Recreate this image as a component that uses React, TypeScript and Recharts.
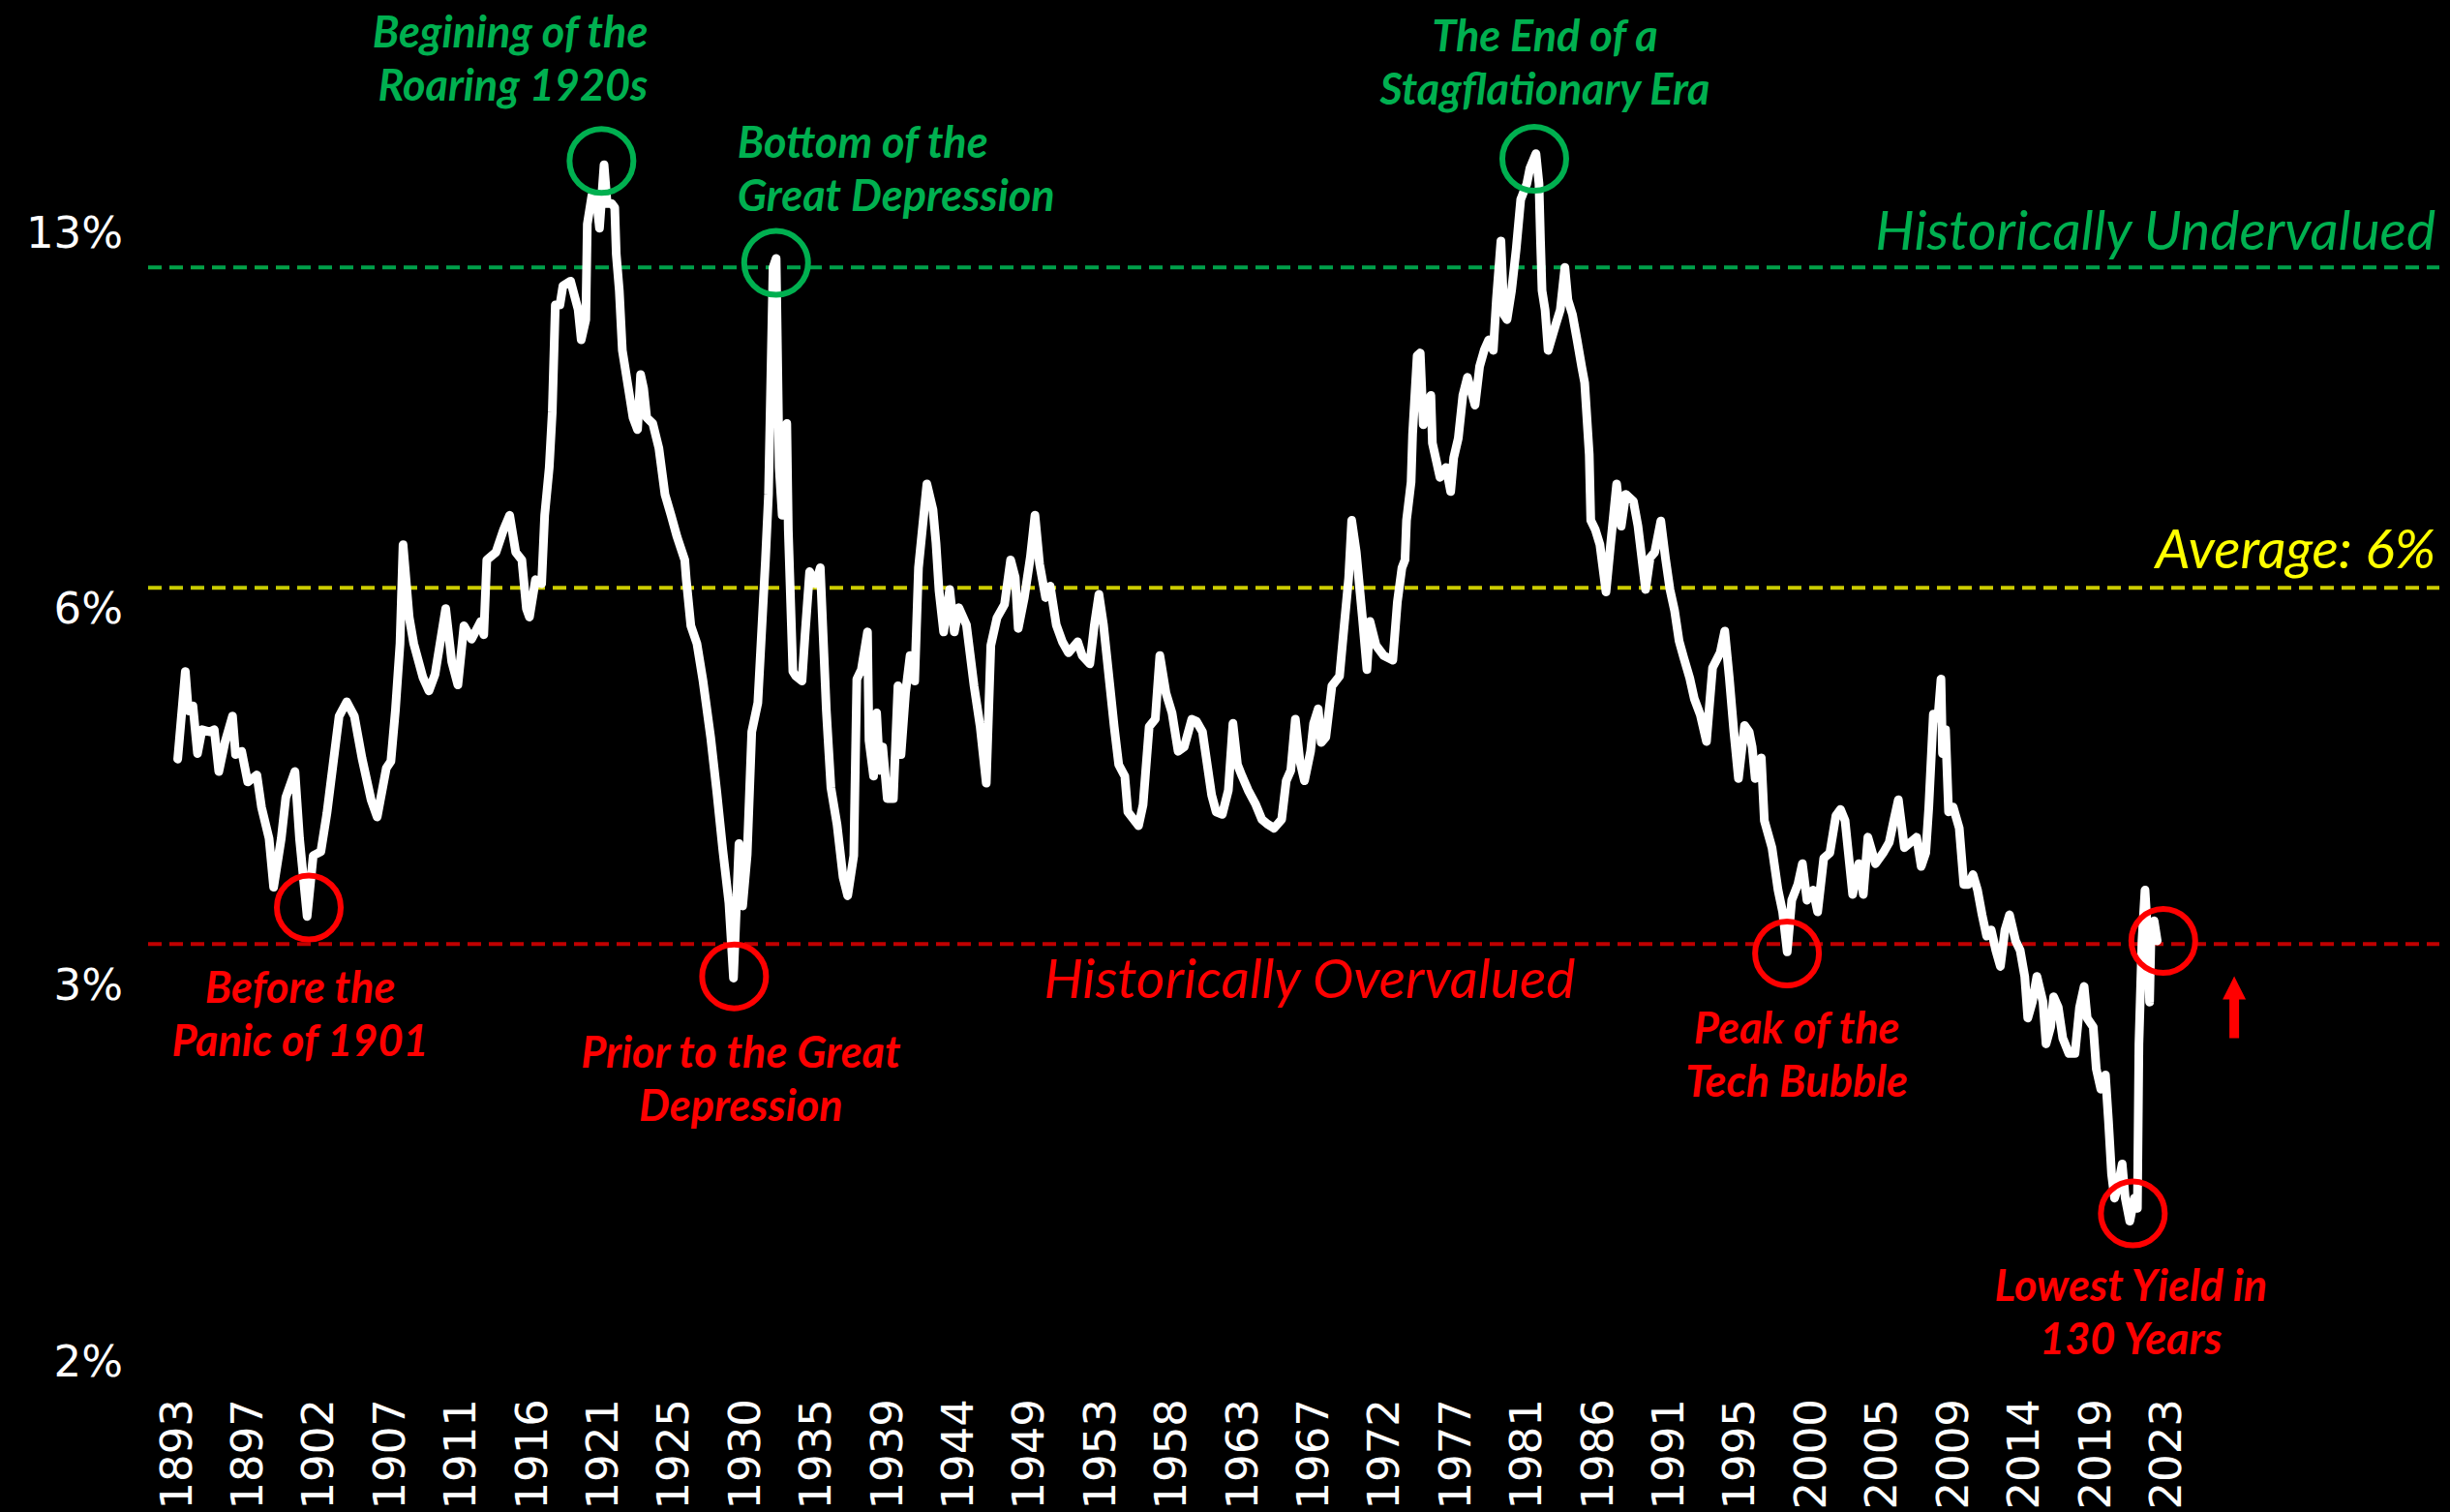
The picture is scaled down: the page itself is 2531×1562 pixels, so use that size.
import React from 'react';
import { LineChart, Line, XAxis, YAxis, ReferenceLine, ReferenceDot } from 'recharts';

const W = 2531;
const H = 1562;

// ---- data (decimal year, yield %) ----
const years: number[] = [
  1893.1, 1893.6, 1893.8, 1894.1, 1894.4, 1894.7, 1895.2, 1895.5, 1895.8, 1896.2, 1896.7, 1896.9, 1897.3, 1897.7, 1898.3, 1898.6, 1899.1, 1899.4, 1899.9,
  1900.2, 1900.8, 1901.1, 1901.6, 1902.0, 1902.5, 1902.9, 1903.7, 1904.2, 1904.7, 1905.2, 1905.8, 1906.2, 1906.8, 1907.1, 1907.4, 1907.7, 1907.9, 1908.3, 1908.6,
  1909.2, 1909.6, 1910.0, 1910.7, 1911.1, 1911.5, 1911.9, 1912.4, 1913.0, 1913.2, 1913.4, 1914.0, 1914.5, 1914.9, 1915.3, 1915.7, 1916.0, 1916.2, 1916.6, 1917.0,
  1917.2, 1917.5, 1917.7, 1917.9, 1918.2, 1918.4, 1918.9, 1919.4, 1919.6, 1919.9, 1920.0, 1920.3, 1920.6, 1920.8, 1921.1, 1921.3, 1921.6, 1921.8, 1921.9, 1922.1,
  1922.3, 1922.7, 1923.0, 1923.3, 1923.5, 1923.7, 1923.9, 1924.3, 1924.7, 1925.1, 1925.5, 1925.9, 1926.4, 1926.5, 1926.8, 1927.2, 1927.6, 1928.1, 1928.5, 1928.9,
  1929.3, 1929.6, 1929.96, 1930.2, 1930.5, 1930.8, 1931.2, 1931.7, 1931.9, 1932.2, 1932.4, 1932.6, 1932.8, 1933.1, 1933.2, 1933.5, 1933.7, 1934.1, 1934.3, 1934.6,
  1935.0, 1935.3, 1935.7, 1936.0, 1936.4, 1936.8, 1937.1, 1937.5, 1937.7, 1938.0, 1938.4, 1938.5, 1938.8, 1939.0, 1939.2, 1939.4, 1939.7, 1940.1, 1940.4, 1940.6,
  1940.9, 1941.2, 1941.5, 1941.75, 1942.3, 1942.7, 1942.9, 1943.1, 1943.4, 1943.8, 1944.1, 1944.4, 1944.9, 1945.4, 1945.8, 1946.2, 1946.5, 1946.9, 1947.4, 1947.8,
  1948.1, 1948.3, 1948.7, 1949.1, 1949.4, 1949.7, 1950.1, 1950.4, 1950.8, 1951.2, 1951.6, 1952.2, 1952.5, 1953.0, 1953.3, 1953.6, 1953.9, 1954.3, 1954.6, 1954.9,
  1955.3, 1955.5, 1956.2, 1956.5, 1956.9, 1957.3, 1957.6, 1958.0, 1958.4, 1958.8, 1959.2, 1959.7, 1960.0, 1960.4, 1961.0, 1961.3, 1961.7, 1962.1, 1962.4, 1962.7,
  1963.0, 1963.4, 1963.9, 1964.3, 1964.7, 1965.1, 1965.6, 1965.9, 1966.2, 1966.5, 1966.8, 1967.1, 1967.5, 1967.7, 1968.0, 1968.2, 1968.5, 1968.9, 1969.4, 1969.7,
  1970.0, 1970.2, 1970.5, 1970.9, 1971.2, 1971.4, 1971.8, 1972.3, 1972.9, 1973.2, 1973.5, 1973.7, 1973.8, 1974.1, 1974.2, 1974.5, 1974.7, 1974.9, 1975.1, 1975.4,
  1975.5, 1976.0, 1976.4, 1976.7, 1976.9, 1977.2, 1977.5, 1977.8, 1978.3, 1978.6, 1978.9, 1979.2, 1979.5, 1979.7, 1980.0, 1980.2, 1980.4, 1980.7, 1981.0, 1981.3,
  1981.7, 1981.9, 1982.3, 1982.5, 1982.6, 1982.7, 1982.9, 1983.1, 1983.6, 1983.9, 1984.2, 1984.4, 1984.7, 1985.0, 1985.3, 1985.5, 1985.8, 1985.9, 1986.2, 1986.5,
  1986.9, 1987.2, 1987.6, 1987.9, 1988.2, 1988.7, 1989.0, 1989.5, 1989.8, 1990.1, 1990.5, 1990.8, 1991.1, 1991.4, 1991.7, 1992.0, 1992.4, 1992.7, 1993.1, 1993.5,
  1993.9, 1994.4, 1994.7, 1995.0, 1995.3, 1995.6, 1996.0, 1996.3, 1996.5, 1996.7, 1997.1, 1997.3, 1997.8, 1998.2, 1998.5, 1998.8, 1999.1, 1999.5, 1999.8, 2000.1,
  2000.5, 2000.8, 2001.2, 2001.6, 2002.0, 2002.3, 2002.6, 2003.1, 2003.5, 2003.8, 2004.1, 2004.6, 2005.1, 2005.5, 2005.8, 2006.1, 2006.5, 2006.9, 2007.3, 2007.6,
  2007.9, 2008.1, 2008.4, 2008.7, 2008.9, 2009.0, 2009.2, 2009.4, 2009.7, 2010.1, 2010.4, 2010.7, 2011.0, 2011.3, 2011.6, 2011.9, 2012.2, 2012.5, 2012.8, 2013.1,
  2013.4, 2013.8, 2014.1, 2014.4, 2014.6, 2014.9, 2015.2, 2015.6, 2015.8, 2016.1, 2016.3, 2016.6, 2016.9, 2017.3, 2017.7, 2018.0, 2018.3, 2018.5, 2018.9, 2019.1,
  2019.4, 2019.7, 2019.9, 2020.1, 2020.3, 2020.5, 2020.8, 2021.0, 2021.3, 2021.6, 2021.8, 2021.9, 2022.1, 2022.3, 2022.5, 2022.6, 2022.7, 2022.9, 2023.1,
];

const yields: number[] = [
  4.85, 5.7, 5.3, 5.35, 4.9, 5.12, 5.1, 5.12, 4.74, 5.0, 5.25, 4.89, 4.92, 4.65, 4.71, 4.44, 4.19, 3.83, 4.19,
  4.52, 4.74, 4.19, 3.63, 4.06, 4.09, 4.39, 5.25, 5.39, 5.25, 4.86, 4.5, 4.36, 4.77, 4.83, 5.31, 6.0, 7.2, 6.3, 6.0,
  5.64, 5.5, 5.67, 6.4, 5.8, 5.56, 6.2, 6.05, 6.25, 6.1, 7.0, 7.1, 7.4, 7.6, 7.1, 7.0, 6.4, 6.3, 6.75, 6.7,
  7.6, 8.3, 9.2, 11.2, 11.2, 11.6, 11.7, 11.1, 10.5, 10.9, 13.0, 13.7, 13.6, 12.9, 14.5, 13.5, 13.5, 13.4, 12.3, 11.5,
  10.3, 9.6, 9.1, 8.9, 9.85, 9.6, 9.1, 9.0, 8.6, 7.9, 7.6, 7.3, 7.0, 6.75, 6.2, 6.0, 5.6, 5.05, 4.57, 4.1,
  3.72, 3.24, 4.15, 3.7, 4.07, 5.1, 5.38, 7.0, 7.9, 12.0, 12.2, 8.3, 7.6, 9.0, 7.4, 5.7, 5.65, 5.6, 6.1, 6.85,
  6.7, 6.9, 5.3, 4.6, 4.3, 3.9, 3.77, 4.06, 5.62, 5.72, 6.13, 5.02, 4.7, 5.28, 4.75, 4.96, 4.51, 4.51, 5.55, 4.89,
  5.48, 5.87, 5.6, 6.9, 8.05, 7.68, 7.22, 6.61, 6.13, 6.63, 6.13, 6.41, 6.21, 5.55, 5.15, 4.64, 5.98, 6.29, 6.45, 7.0,
  6.78, 6.17, 6.53, 7.04, 7.6, 6.95, 6.53, 6.67, 6.21, 6.02, 5.9, 6.02, 5.87, 5.78, 6.21, 6.57, 6.21, 5.58, 5.15, 4.8,
  4.7, 4.4, 4.29, 4.46, 5.15, 5.22, 5.87, 5.48, 5.28, 4.92, 4.96, 5.22, 5.2, 5.1, 4.54, 4.4, 4.38, 4.58, 5.18, 4.8,
  4.7, 4.58, 4.46, 4.34, 4.3, 4.27, 4.34, 4.66, 4.75, 5.22, 4.83, 4.66, 4.92, 5.18, 5.32, 5.0, 5.05, 5.55, 5.65, 6.19,
  6.77, 7.53, 7.1, 6.3, 5.72, 6.25, 5.98, 5.87, 5.82, 6.48, 6.9, 7.0, 7.53, 8.08, 8.83, 10.2, 10.25, 8.98, 9.31, 9.48,
  8.68, 8.15, 8.3, 7.94, 8.45, 8.76, 9.48, 9.8, 9.31, 10.0, 10.3, 10.5, 10.3, 11.3, 12.6, 11.0, 10.9, 11.5, 12.4, 13.6,
  14.0, 14.4, 14.8, 14.0, 12.6, 11.5, 11.1, 10.3, 10.8, 11.1, 12.0, 11.3, 11.0, 10.5, 10.0, 9.7, 8.5, 7.53, 7.4, 7.2,
  6.6, 7.2, 8.05, 7.45, 7.9, 7.8, 7.45, 6.63, 7.03, 7.1, 7.52, 7.03, 6.63, 6.38, 6.03, 5.85, 5.63, 5.42, 5.26, 5.01,
  5.74, 5.9, 6.14, 5.63, 5.1, 4.68, 5.16, 5.1, 4.96, 4.68, 4.86, 4.33, 4.12, 3.81, 3.66, 3.4, 3.74, 3.85, 4.0, 3.74,
  3.81, 3.66, 4.04, 4.08, 4.37, 4.42, 4.33, 3.78, 4.0, 3.78, 4.2, 4.0, 4.08, 4.16, 4.33, 4.5, 4.12, 4.16, 4.2, 3.98,
  4.08, 4.44, 5.27, 5.23, 5.62, 4.9, 5.12, 4.4, 4.44, 4.27, 3.85, 3.85, 3.92, 3.81, 3.64, 3.5, 3.54, 3.41, 3.31, 3.54,
  3.64, 3.47, 3.41, 3.25, 3.01, 3.1, 3.25, 3.1, 2.87, 2.96, 3.13, 3.07, 2.9, 2.82, 2.82, 3.07, 3.19, 3.01, 2.96, 2.74,
  2.64, 2.71, 2.49, 2.26, 2.16, 2.2, 2.3, 2.16, 2.07, 2.16, 2.12, 2.87, 3.47, 3.81, 3.47, 3.1, 3.54, 3.6, 3.47,
];

const xTickLabels: string[] = [
  '1893', '1897', '1902', '1907', '1911', '1916', '1921', '1925', '1930', '1935', '1939', '1944', '1949', '1953', '1958',
  '1963', '1967', '1972', '1977', '1981', '1986', '1991', '1995', '2000', '2005', '2009', '2014', '2019', '2023',
];
// every 56th month starting January 1893
const xTickValues: number[] = xTickLabels.map((_, k) => 1893 + (56 * k) / 12);

const yTickValues: number[] = [1.6, 3.2, 6.4, 12.8];
const yTickLabels: string[] = ['2%', '3%', '6%', '13%'];

const undervaluedLevel = 12.0;
const averageLevel = 6.65;
const overvaluedLevel = 3.45;

const rows = years.map((year, i) => ({ year, y: yields[i] }));

// ---- styling ----
const GREEN = '#00B050';
const GREEN_LINE = '#00A04A';
const YELLOW_LINE = '#CCCC00';
const YELLOW_TEXT = '#FFFF00';
const RED = '#FF0000';
const RED_LINE = '#C00000';
const NOTE_FONT = 'Lato, "Open Sans", sans-serif';

const X_MIN = 1891.156;
const X_MAX = 2041.63;

type Note = {
  x: number;
  y: number;
  color: string;
  lines: string[];
  dx: number;
  dy: number;
  anchor: 'start' | 'middle' | 'end';
  circle: boolean;
};

const notes: Note[] = [
  { x: 1920.93, y: 14.6, color: GREEN, lines: ['Begining of the', 'Roaring 1920s'], dx: 48, dy: -134, anchor: 'end', circle: true },
  { x: 1932.4, y: 12.1, color: GREEN, lines: ['Bottom of the', 'Great Depression'], dx: -40, dy: -126, anchor: 'start', circle: true },
  { x: 1982.19, y: 14.66, color: GREEN, lines: ['The End of a', 'Stagflationary Era'], dx: 11, dy: -128, anchor: 'middle', circle: true },
  { x: 1901.71, y: 3.69, color: RED, lines: ['Before the', 'Panic of 1901'], dx: -9, dy: 82, anchor: 'middle', circle: true },
  { x: 1929.64, y: 3.25, color: RED, lines: ['Prior to the Great', 'Depression'], dx: 7, dy: 77, anchor: 'middle', circle: true },
  { x: 1998.79, y: 3.39, color: RED, lines: ['Peak of the', 'Tech Bubble'], dx: 10, dy: 76, anchor: 'middle', circle: true },
  { x: 2021.5, y: 2.1, color: RED, lines: ['Lowest Yield in', '130 Years'], dx: -2, dy: 73, anchor: 'middle', circle: true },
  { x: 2023.5, y: 3.47, color: RED, lines: [], dx: 0, dy: 0, anchor: 'middle', circle: true },
];

type LineNote = { x: number; y: number; text: string; color: string; dy: number; anchor: 'start' | 'middle' | 'end' };
const lineNotes: LineNote[] = [
  { x: 2041.38, y: undervaluedLevel, text: 'Historically Undervalued', color: GREEN, dy: -40, anchor: 'end' },
  { x: 2041.38, y: averageLevel, text: 'Average: 6%', color: YELLOW_TEXT, dy: -42, anchor: 'end' },
  { x: 1967.44, y: overvaluedLevel, text: 'Historically Overvalued', color: RED, dy: 34, anchor: 'middle' },
];

const arrowPoint = { x: 2028.16, y: 3.07 };

const XTick = (props: any) => {
  const { x, y, payload } = props;
  const idx = xTickValues.findIndex((v) => Math.abs(v - payload.value) < 1e-6);
  const label = idx >= 0 ? xTickLabels[idx] : '';
  return (
    <text
      x={0}
      y={0}
      transform={`translate(${x},${y + 39}) rotate(-90)`}
      textAnchor="end"
      dominantBaseline="central"
      fill="#FFFFFF"
      fontSize={45}
      fontFamily='"DejaVu Sans", sans-serif'
    >
      {label}
    </text>
  );
};

const YTick = (props: any) => {
  const { x, y, payload } = props;
  const idx = yTickValues.findIndex((v) => Math.abs(v - payload.value) < 1e-6);
  const label = idx >= 0 ? yTickLabels[idx] : '';
  return (
    <text x={x - 26} y={y} textAnchor="end" dominantBaseline="central" fill="#FFFFFF" fontSize={45} fontFamily='"DejaVu Sans", sans-serif'>
      {label}
    </text>
  );
};

const noteShape = (n: Note) => (props: any) => {
  const { cx, cy } = props;
  if (cx == null || cy == null) return <g />;
  return (
    <g>
      {n.circle && <circle cx={cx} cy={cy} r={33} fill="none" stroke={n.color} strokeWidth={6} />}
      {n.lines.map((t, i) => (
        <text
          key={i}
          x={cx + n.dx}
          y={cy + n.dy + i * 55}
          textAnchor={n.anchor}
          dominantBaseline="central"
          fill={n.color}
          fontFamily={NOTE_FONT}
          fontStyle="italic"
          fontWeight={700}
          fontSize={45}
        >
          {t}
        </text>
      ))}
    </g>
  );
};

const lineNoteShape = (n: LineNote) => (props: any) => {
  const { cx, cy } = props;
  if (cx == null || cy == null) return <g />;
  return (
    <text
      x={cx}
      y={cy + n.dy}
      textAnchor={n.anchor}
      dominantBaseline="central"
      fill={n.color}
      fontFamily={NOTE_FONT}
      fontStyle="italic"
      fontWeight={400}
      fontSize={57}
    >
      {n.text}
    </text>
  );
};

const arrowShape = (props: any) => {
  const { cx, cy } = props;
  if (cx == null || cy == null) return <g />;
  const d = `M ${cx} ${cy - 32} L ${cx + 12} ${cy - 8} L ${cx + 5} ${cy - 8} L ${cx + 5} ${cy + 32} L ${cx - 5} ${cy + 32} L ${cx - 5} ${cy - 8} L ${cx - 12} ${cy - 8} Z`;
  return <path d={d} fill={RED} />;
};

export default function App() {
  return (
    <div style={{ position: 'absolute', left: 0, top: 0, width: W, height: H, background: '#000000', overflow: 'hidden' }}>
      <LineChart width={W} height={H} data={rows} margin={{ top: 0, right: 11, bottom: 0, left: 0 }}>
        <XAxis
          dataKey="year"
          type="number"
          domain={[X_MIN, X_MAX]}
          ticks={xTickValues}
          interval={0}
          tick={(p: any) => <XTick {...p} />}
          axisLine={false}
          tickLine={false}
          tickSize={0}
          tickMargin={0}
          height={156}
          allowDataOverflow
        />
        <YAxis
          type="number"
          scale="log"
          domain={[1.6, 19.64]}
          ticks={yTickValues}
          interval={0}
          tick={(p: any) => <YTick {...p} />}
          axisLine={false}
          tickLine={false}
          tickSize={0}
          tickMargin={0}
          width={153}
          allowDataOverflow
        />
        <ReferenceLine y={undervaluedLevel} stroke={GREEN_LINE} strokeWidth={4} strokeDasharray="14 8" />
        <ReferenceLine y={averageLevel} stroke={YELLOW_LINE} strokeWidth={4} strokeDasharray="14 8" />
        <ReferenceLine y={overvaluedLevel} stroke={RED_LINE} strokeWidth={4} strokeDasharray="14 8" />
        <Line
          type="linear"
          dataKey="y"
          stroke="#FFFFFF"
          strokeWidth={9}
          strokeLinejoin="round"
          strokeLinecap="round"
          dot={false}
          activeDot={false}
          isAnimationActive={false}
        />
        {notes.map((n, i) => (
          <ReferenceDot key={`n${i}`} x={n.x} y={n.y} r={33} ifOverflow="visible" shape={noteShape(n)} />
        ))}
        {lineNotes.map((n, i) => (
          <ReferenceDot key={`l${i}`} x={n.x} y={n.y} r={1} ifOverflow="visible" shape={lineNoteShape(n)} />
        ))}
        <ReferenceDot x={arrowPoint.x} y={arrowPoint.y} r={1} ifOverflow="visible" shape={arrowShape} />
      </LineChart>
    </div>
  );
}
